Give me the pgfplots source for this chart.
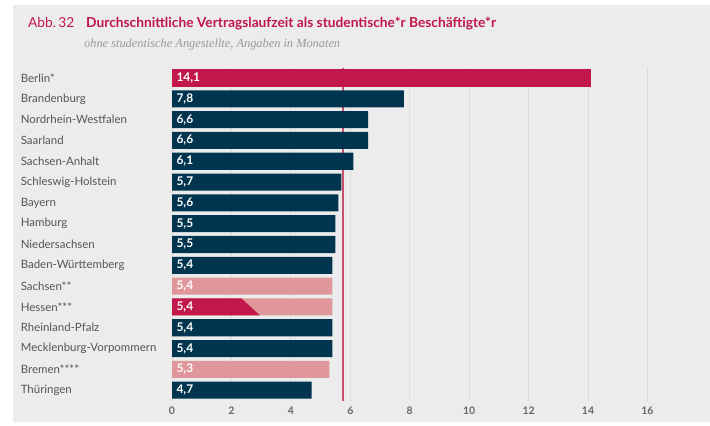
\documentclass[border=0pt]{standalone}
\usepackage{pgfplots}
\pgfplotsset{compat=1.18}
\usepackage{fontspec}
\setmainfont{Lato}
\newfontfamily\serifit{Liberation Serif}
\definecolor{cred}{HTML}{C1174A}
\definecolor{cblue}{HTML}{00344F}
\definecolor{cpink}{HTML}{E0979B}
\definecolor{cbg}{HTML}{ECECEC}
\definecolor{cgrid}{HTML}{DCDCDC}
\definecolor{ctext}{HTML}{555555}
\definecolor{csub}{HTML}{9A9A9A}
\definecolor{cline}{HTML}{C8506E}
\begin{document}
\begin{tikzpicture}[x=1bp,y=1bp]
\path[use as bounding box] (0,0) rectangle (710,-425);
\fill[white] (0,0) rectangle (710,-425);
\fill[cbg] (13,-5) rectangle (710,-422);
\node[anchor=base west, inner sep=0, text=cred, font=\fontsize{13.8}{15}\selectfont] at (28,-27.5) {Abb.\,32};
\node[anchor=base west, inner sep=0, text=cred, font=\fontsize{13.8}{15}\selectfont\bfseries] at (86,-27.5) {Durchschnittliche Vertragslaufzeit als studentische*r Beschäftigte*r};
\node[anchor=base west, inner sep=0, text=csub, font=\serifit\itshape\fontsize{12.4}{14}\selectfont] at (84,-47) {ohne studentische Angestellte, Angaben in Monaten};
\begin{axis}[
  at={(172bp,-67.6bp)}, anchor=north west,
  scale only axis, width=520bp, height=333bp,
  xmin=0, xmax=17.5, ymin=-0.5, ymax=15.5, y dir=reverse,
  axis line style={draw=none}, major tick length=0,
  xtick={0,2,...,16}, xmajorgrids, grid style={cgrid, line width=0.8bp},
  extra x ticks={5.75}, extra x tick labels={},
  extra x tick style={grid=major, major grid style={cline, line width=1.3bp}},
  ytick={0,...,15},
  yticklabels={Berlin*,Brandenburg,Nordrhein-Westfalen,Saarland,Sachsen-Anhalt,Schleswig-Holstein,Bayern,Hamburg,Niedersachsen,Baden-Württemberg,Sachsen**,Hessen***,Rheinland-Pfalz,Mecklenburg-Vorpommern,Bremen****,Thüringen},
  yticklabel style={text width=151bp, align=left, inner xsep=0, text=ctext, font=\fontsize{11.5}{13}\selectfont},
  xticklabel style={text=ctext!90, yshift=-3bp, font=\fontsize{10.5}{12}\selectfont\bfseries},
  /pgf/number format/assume math mode=true,
  xbar, bar width=0.82, bar shift=0pt,
  clip=false,
]
\addplot[fill=cred, draw=none] coordinates {(14.1,0)};
\addplot[fill=cblue, draw=none] coordinates {(7.8,1) (6.6,2) (6.6,3) (6.1,4) (5.7,5) (5.6,6) (5.5,7) (5.5,8) (5.4,9) (5.4,12) (5.4,13) (4.7,15)};
\addplot[fill=cpink, draw=none] coordinates {(5.4,10) (5.4,11) (5.3,14)};
\addplot[fill=cred, draw=none, sharp plot, mark=none] coordinates {(0,10.59) (2.34,10.59) (2.96,11.41) (0,11.41)} -- cycle;
\addplot[sharp plot, draw=none, mark=none, point meta=explicit,
  nodes near coords={\pgfmathprintnumber[use comma,fixed,fixed zerofill,precision=1]{\pgfplotspointmeta}},
  nodes near coords style={anchor=west, xshift=1bp, text=white, font=\fontsize{12}{13}\selectfont\bfseries}]
  table[x=x, y=y, meta=v] {
x y v
0 0 14.1
0 1 7.8
0 2 6.6
0 3 6.6
0 4 6.1
0 5 5.7
0 6 5.6
0 7 5.5
0 8 5.5
0 9 5.4
0 10 5.4
0 11 5.4
0 12 5.4
0 13 5.4
0 14 5.3
0 15 4.7
};
\end{axis}
\end{tikzpicture}
\end{document}
